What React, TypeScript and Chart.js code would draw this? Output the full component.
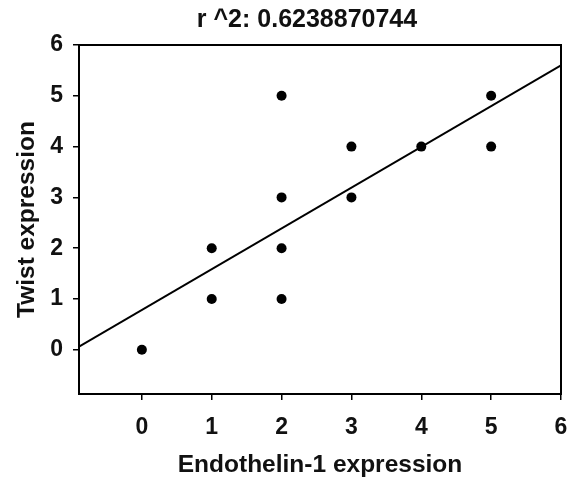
import React, { useEffect, useRef } from "react";
import { Chart, registerables } from "chart.js";

Chart.register(...registerables);

const titleText = "r ^2: 0.6238870744";
const xTitle = "Endothelin-1 expression";
const yTitle = "Twist expression";

const pointX = [0, 1, 1, 2, 2, 2, 2, 3, 3, 4, 5, 5];
const pointY = [0, 1, 2, 1, 2, 3, 5, 3, 4, 4, 4, 5];

const lineX = [-0.9, 6];
const lineY = [0.06, 5.6];

const xTicks = [0, 1, 2, 3, 4, 5, 6];
const yTicks = [0, 1, 2, 3, 4, 5, 6];

const FONT = "'Liberation Sans', Arial, sans-serif";

const framePlugin = {
  id: "frameAndTitle",
  afterDatasetsDraw(chart: any) {
    const { ctx, chartArea } = chart;
    ctx.save();
    ctx.strokeStyle = "#000";
    ctx.lineWidth = 2;
    ctx.strokeRect(chartArea.left, chartArea.top, chartArea.right - chartArea.left, chartArea.bottom - chartArea.top);
    ctx.fillStyle = "#111";
    ctx.font = `bold 25px ${FONT}`;
    ctx.textAlign = "center";
    ctx.textBaseline = "middle";
    ctx.fillText(titleText, 307, 20);
    ctx.restore();
  },
};

export default function App() {
  const ref = useRef<HTMLCanvasElement | null>(null);
  useEffect(() => {
    document.body.style.margin = "0";
    const canvas = ref.current;
    if (!canvas) return;
    const chart = new Chart(canvas, {
      type: "scatter",
      data: {
        datasets: [
          {
            type: "scatter",
            data: pointX.map((x, i) => ({ x, y: pointY[i] })),
            backgroundColor: "#000",
            borderColor: "#000",
            pointRadius: 5,
            pointBorderWidth: 0,
          },
          {
            type: "line",
            data: lineX.map((x, i) => ({ x, y: lineY[i] })),
            borderColor: "#000",
            borderWidth: 2,
            pointRadius: 0,
            fill: false,
          } as any,
        ],
      },
      options: {
        animation: false,
        responsive: false,
        maintainAspectRatio: false,
        layout: { padding: { top: 45, right: 9, left: 0, bottom: 0 } },
        plugins: {
          legend: { display: false },
          tooltip: { enabled: false },
          title: { display: false },
        },
        scales: {
          x: {
            type: "linear",
            min: -0.9,
            max: 6,
            afterBuildTicks: (scale: any) => {
              scale.ticks = xTicks.map((v) => ({ value: v }));
            },
            afterFit: (scale: any) => {
              scale.height = 84;
              scale.paddingRight = 0;
              scale.paddingLeft = 0;
            },
            ticks: {
              color: "#111",
              font: { family: FONT, size: 23, weight: "bold" },
              padding: 14,
              maxRotation: 0,
            },
            grid: {
              display: true,
              drawOnChartArea: false,
              drawTicks: true,
              tickLength: 6,
              color: "#000",
              lineWidth: 1.5,
            },
            border: { display: false },
            title: {
              display: true,
              text: xTitle,
              color: "#111",
              font: { family: FONT, size: 24.5, weight: "bold", lineHeight: 1.05 },
              padding: { top: 0, bottom: 0 },
            },
          },
          y: {
            type: "linear",
            min: -0.87,
            max: 6,
            afterBuildTicks: (scale: any) => {
              scale.ticks = yTicks.map((v) => ({ value: v }));
            },
            afterFit: (scale: any) => {
              scale.width = 79;
              scale.paddingTop = 0;
              scale.paddingBottom = 0;
            },
            ticks: {
              color: "#111",
              font: { family: FONT, size: 23, weight: "bold" },
              padding: 10,
            },
            grid: {
              display: true,
              drawOnChartArea: false,
              drawTicks: true,
              tickLength: 6,
              color: "#000",
              lineWidth: 1.5,
            },
            border: { display: false },
            title: {
              display: true,
              text: yTitle,
              color: "#111",
              font: { family: FONT, size: 24.5, weight: "bold" },
              padding: { top: 13, bottom: 0 },
            },
          },
        },
      },
      plugins: [framePlugin],
    });
    return () => chart.destroy();
  }, []);
  return (
    <div style={{ width: 570, height: 478, background: "#fff" }}>
      <canvas ref={ref} width={570} height={478} style={{ display: "block" }} />
    </div>
  );
}
